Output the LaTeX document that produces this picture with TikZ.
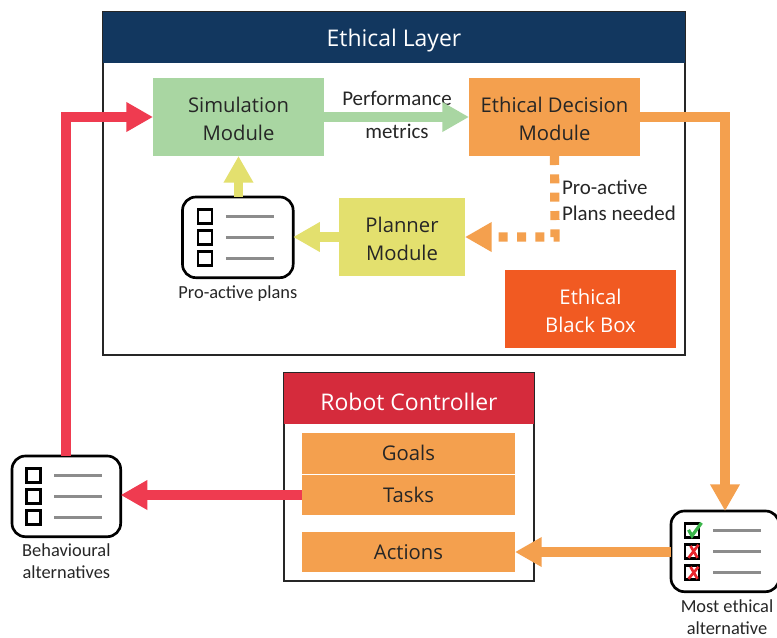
\documentclass[tikz,border=0pt]{standalone}
\usepackage{fontspec}
\setmainfont{Open Sans}
\newfontfamily\smallfont{Carlito}
\usetikzlibrary{arrows.meta,positioning}
\definecolor{navyc}{HTML}{12375F}
\definecolor{greenc}{HTML}{A9D6A2}
\definecolor{orangec}{HTML}{F4A04E}
\definecolor{yellowc}{HTML}{E3E06E}
\definecolor{blackboxc}{HTML}{F15A22}
\definecolor{redc}{HTML}{D52B3C}
\definecolor{arrowred}{HTML}{EF3B50}
\definecolor{inkc}{HTML}{262626}
\definecolor{rulec}{HTML}{8C8C8C}
\definecolor{tickgreen}{HTML}{3AB54A}
\definecolor{crossred}{HTML}{E8262D}
\tikzset{
  px/.style={x=0.75pt,y=-0.75pt},
  every node/.style={outer sep=0pt},
  frame/.style={draw=inkc,line width=1.6pt,fill=white,inner sep=0pt,anchor=north west},
  headbar/.style={anchor=north west,inner sep=0pt},
  headtext/.style={inner sep=0pt,text=white,yshift=-2.2pt,font=\fontsize{17.2}{20}\selectfont},
  modbox/.style={anchor=north west,inner sep=0pt},
  modtext/.style={inner sep=0pt,align=center,text=inkc,yshift=-1.3pt,font=\fontsize{15.2}{21}\selectfont},
  onetext/.style={inner sep=0pt,text=inkc,yshift=0.4pt,font=\fontsize{15.2}{21}\selectfont},
  listbox/.style={draw=black,line width=2pt,rounded corners=10pt,fill=white,inner sep=0pt,anchor=north west},
  caption/.style={text=inkc,align=center,inner sep=0pt,font=\smallfont\fontsize{13.8}{16.5}\selectfont},
  flowlabel/.style={text=inkc,inner sep=0pt,font=\smallfont\fontsize{15.7}{20}\selectfont},
  fat/.style={line width=6.9pt,-{Triangle[length=20pt,width=21pt]}},
  check/.style={draw=black,line width=2pt,fill=white},
  itemrule/.style={draw=rulec,line width=1.8pt},
  tick/.style={draw=tickgreen,line width=2.4pt},
  cross/.style={draw=crossred,line width=2pt}
}
\newcommand{\listitems}[1]{%
  \begin{scope}[shift={(#1)}]
    \foreach \yy in {-21,0,21}{
      \draw[check] (-40,\yy-7) rectangle (-26,\yy+7);
      \draw[itemrule] (-12,\yy) -- (36,\yy);
    }
  \end{scope}}
\begin{document}
\begin{tikzpicture}[px]
\useasboundingbox (0,0) rectangle (777,637);
% Ethical layer
\node[frame,minimum width=436.5pt,minimum height=257.25pt] (ethical) at (103,12) {};
\node[headbar,fill=navyc,minimum width=436.5pt,minimum height=38.25pt,label={[headtext]center:{Ethical Layer}}] (ethicalhead) at (103,12) {};
\node[modbox,fill=greenc,minimum width=128.25pt,minimum height=58.5pt,label={[modtext]center:{Simulation\\Module}}] (sim) at (153,78) {};
\node[modbox,fill=orangec,minimum width=128.25pt,minimum height=58.5pt,label={[modtext]center:{Ethical Decision\\Module}}] (edm) at (469,78) {};
\node[modbox,fill=yellowc,minimum width=94.5pt,minimum height=58.5pt,label={[modtext]center:{Planner\\Module}}] (planner) at (339,198) {};
\node[modbox,fill=blackboxc,minimum width=128.25pt,minimum height=58.5pt,label={[modtext,text=white]center:{Ethical\\Black Box}}] (ebb) at (505,270) {};
% Robot controller
\node[frame,minimum width=187.5pt,minimum height=156pt] (robot) at (284,373) {};
\node[headbar,fill=redc,minimum width=187.5pt,minimum height=38.25pt,label={[headtext]center:{Robot Controller}}] (robothead) at (284,373) {};
\node[modbox,fill=orangec,minimum width=159.75pt,minimum height=30.75pt,label={[onetext]center:{Goals}}] (goals) at (302,433) {};
\node[modbox,fill=orangec,minimum width=159.75pt,minimum height=30pt,label={[onetext]center:{Tasks}}] (tasks) at (302,475) {};
\node[modbox,fill=orangec,minimum width=159.75pt,minimum height=30pt,label={[onetext,yshift=-0.4pt]center:{Actions}}] (actions) at (302,532) {};
% Lists
\node[listbox,minimum width=83pt,minimum height=60.5pt] (plans) at (182.5,197) {};
\listitems{plans.center}
\node[caption,below=6pt of plans.south] (planscap) {Pro-active plans};
\node[listbox,minimum width=81.5pt,minimum height=60.5pt] (behav) at (12,456) {};
\listitems{behav.center}
\node[caption,below=5.25pt of behav.south] (behavcap) {Behavioural\\alternatives};
\node[listbox,minimum width=81pt,minimum height=60.5pt] (best) at (671,511) {};
\listitems{best.center}
\node[caption,below=5.75pt of best.south,xshift=1.5pt] (bestcap) {Most ethical\\alternative};
\begin{scope}[shift={(best.center)}]
  \draw[tick] (-36.5,-21.5) -- (-33,-15.5) -- (-23.5,-28.5);
  \draw[cross] (-36.5,6.5) -- (-26.5,-6.5) (-34.5,-5.5) -- (-27.5,6.5);
  \draw[cross] (-36.5,27.5) -- (-26.5,15.5) (-34.5,15.5) -- (-27.5,27.5);
\end{scope}
% Labels
\node[flowlabel] (perf) at (397,98) {Performance};
\node[flowlabel] (metrics) at (397,131) {metrics};
\node[flowlabel,anchor=west] (proactive) at (562,187) {Pro-active};
\node[flowlabel,anchor=west] (needed) at (562,213) {Plans needed};
% Connectors
\coordinate (redup) at (66,117);
\coordinate (orcorner) at (725,117);
\coordinate (dotcorner) at (555,237);
\draw[fat,draw=arrowred] (behav.north -| redup) -- (redup) -- (sim.west);
\draw[fat,draw=arrowred] (tasks.west) -- (tasks.west -| behav.east);
\draw[fat,draw=greenc] (sim.east) -- (edm.west);
\draw[fat,draw=yellowc] (plans.north -| sim.south) -- (sim.south);
\draw[fat,draw=yellowc] (planner.west) -- (planner.west -| plans.east);
\draw[fat,draw=orangec] (edm.east) -- (orcorner) -- (orcorner |- best.north);
\draw[fat,draw=orangec] (best.west |- actions.east) -- (actions.east);
\draw[fat,draw=orangec,dash pattern=on 6.75pt off 7pt] (edm.south) -- (dotcorner) -- (planner.east);
\end{tikzpicture}
\end{document}
